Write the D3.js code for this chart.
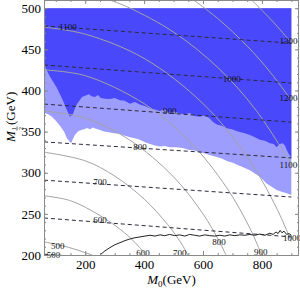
<!DOCTYPE html>
<html>
<head>
<meta charset="utf-8">
<script src="https://cdn.jsdelivr.net/npm/d3@7/dist/d3.min.js"></script>
<style>
  body { margin: 0; background: #fff; }
  svg { display: block; font-family: "Liberation Serif", "Times New Roman", serif; }
</style>
</head>
<body>
<script>
/* globals d3 */

// ---- data (M0, M1/2 in GeV) ----
var xTicks = [200, 400, 600, 800];
var yTicks = [200, 250, 300, 350, 400, 450, 500];

// gluino mass contours (dashed), M1/2 at M0 = 60 and at M0 = 900
var gluinoLevels = [500, 600, 700, 800, 900, 1000, 1100];
var gluinoLeft   = [201, 245, 291, 337.5, 383.5, 431, 478.5];
var gluinoRight  = [180, 222, 270.5, 318, 361.5, 409, 457.5];
var gluinoLabelAt = [[92, 200.3], [250, 242.5], [250, 288.5], [386, 331], [487, 375], [698, 414], [141, 477]];

// squark mass contours (solid grey)
var squarkLevels = [500, 600, 700, 800, 900, 1000, 1100, 1200, 1300];
var squarkLines = [
  [[60, 216], [114, 212], [165, 207], [223, 200]],
  [[60, 272], [150, 266], [250, 248], [330, 228], [380, 211], [405, 200]],
  [[60, 325], [200, 314.5], [300, 296], [400, 268], [480, 237], [530, 212], [548, 200]],
  [[60, 375], [200, 366.5], [350, 340], [500, 295], [600, 250], [650, 220], [678, 200]],
  [[60, 425], [200, 418], [400, 384], [550, 340], [680, 282], [760, 232], [799, 200]],
  [[60, 477], [200, 468.5], [400, 439], [600, 384], [750, 319.5], [850, 257], [900, 216]],
  [[283, 510], [350, 500.5], [500, 471], [650, 428], [780, 376], [900, 310]],
  [[568, 510], [650, 487.5], [750, 454], [830, 421.5], [900, 388]],
  [[765, 510], [830, 486.5], [870, 470.5], [900, 458]]
];
var squarkLabelAt = [[107, 211.5], [396, 203], [521, 203], [654, 215.8], [796, 203.6],
                     [902, 220.7], [890, 309.4], [890, 391], [890, 460]];

// lower edge of the darker excluded region
var darkEdge = [
  [60, 431], [80, 417], [104, 403], [124, 388], [138, 376], [148, 368], [158, 371], [168, 381],
  [179, 387], [189, 392], [202, 394], [212, 395.5], [222, 393], [233, 392], [243, 394.5], [253, 391],
  [267, 390], [284, 389.5], [300, 391], [318, 388], [334, 387.5], [352, 384], [368, 386], [385, 383],
  [402, 381], [420, 378.5], [436, 377], [453, 375], [470, 377], [487, 373], [504, 374.5], [521, 372],
  [538, 371], [555, 372.5], [572, 369], [589, 368], [606, 370], [623, 366], [633, 362], [647, 358.5],
  [664, 357], [681, 354], [698, 353], [711, 351], [725, 349.5], [742, 348], [759, 346], [776, 343],
  [793, 340], [810, 339], [827, 336], [840, 335], [850, 331], [860, 335], [871, 336], [878, 333],
  [884, 328], [891, 323], [900, 318]
];

// lower edge of the lighter excluded region
var lightEdge = [
  [60, 373], [74, 371], [87, 368], [101, 363], [114, 357], [128, 350], [138, 342], [145, 339],
  [152, 336], [158, 341], [165, 346], [175, 350], [186, 352], [196, 353], [206, 354.5], [216, 353],
  [226, 355], [236, 353.5], [250, 352], [264, 350], [284, 349], [300, 348], [318, 347], [335, 345],
  [352, 343], [369, 342], [386, 340], [403, 337], [420, 335], [437, 333], [453, 332], [470, 332.5],
  [487, 331], [509, 331], [531, 330], [550, 328], [570, 327], [589, 325], [610, 323], [628, 321],
  [647, 319], [665, 317], [683, 314], [701, 312], [720, 309], [740, 306], [759, 303], [776, 299],
  [793, 295], [805, 291], [816, 287], [833, 283], [850, 279], [867, 277], [884, 275], [900, 273]
];
var regionTop = 500, regionLeft = 60, regionRight = 900;

// black limit curve near the bottom
var blackLine = [
  [250, 200], [267, 205], [284, 209], [301, 212.5], [318, 215], [335, 217.5], [352, 219.5],
  [369, 221], [386, 222], [403, 223], [420, 224], [437, 223], [454, 224.5], [470, 223.5],
  [487, 225], [504, 223.5], [521, 224.5], [538, 223], [555, 225], [572, 224], [589, 223],
  [606, 224.5], [623, 223.5], [640, 223], [657, 224], [674, 223], [691, 224.5], [708, 223.5],
  [725, 224.5], [742, 224], [759, 225], [776, 224], [793, 225.5], [810, 224], [827, 226.5],
  [838, 225], [848, 228], [855, 226], [862, 230], [868, 227], [875, 229], [884, 225],
  [892, 226], [900, 224]
];

// ---- layout ----
var margin = {top: 0, right: 1, bottom: 34, left: 44};
var width = 300 - margin.left - margin.right;
var height = 289 - margin.top - margin.bottom;

var x = d3.scaleLinear().domain([60, 926]).range([0, width]);
var y = d3.scaleLinear().domain([200, 510]).range([height, 0]);

var svg = d3.select("body").append("svg")
  .attr("width", 300)
  .attr("height", 289);

var g = svg.append("g")
  .attr("transform", "translate(" + margin.left + "," + margin.top + ")");

g.append("clipPath").attr("id", "clip")
  .append("rect").attr("width", width).attr("height", height);

var plot = g.append("g").attr("clip-path", "url(#clip)");

var line = d3.line()
  .x(function(d) { return x(d[0]); })
  .y(function(d) { return y(d[1]); });

var smooth = d3.line()
  .x(function(d) { return x(d[0]); })
  .y(function(d) { return y(d[1]); })
  .curve(d3.curveCatmullRom);

// excluded regions
var lightPoly = [[regionLeft, regionTop], [regionRight, regionTop]].concat(lightEdge.slice().reverse());
var darkPoly = [[regionLeft, regionTop], [regionRight, regionTop]].concat(darkEdge.slice().reverse());

plot.append("path").attr("d", line(lightPoly) + "Z").attr("fill", "#9d9dfd");
plot.append("path").attr("d", line(darkPoly) + "Z").attr("fill", "#4949fb");

// squark contours
plot.selectAll(".sq").data(squarkLines).enter().append("path")
  .attr("class", "sq")
  .attr("d", smooth)
  .attr("fill", "none")
  .attr("stroke", "#a3a3a3")
  .attr("stroke-width", 1);

// gluino contours
plot.selectAll(".gl").data(gluinoLevels).enter().append("path")
  .attr("class", "gl")
  .attr("d", function(d, i) { return line([[60, gluinoLeft[i]], [900, gluinoRight[i]]]); })
  .attr("fill", "none")
  .attr("stroke", "#2a2a3a")
  .attr("stroke-width", 1)
  .attr("stroke-dasharray", "4,3");

// black curve
plot.append("path")
  .attr("d", line(blackLine))
  .attr("fill", "none")
  .attr("stroke", "#222")
  .attr("stroke-width", 1);

// contour labels
function addLabels(levels, pos) {
  g.append("g").selectAll("text").data(levels).enter().append("text")
    .attr("x", function(d, i) { return x(pos[i][0]); })
    .attr("y", function(d, i) { return y(pos[i][1]); })
    .attr("dy", "0.35em")
    .attr("text-anchor", "middle")
    .attr("font-size", 9)
    .attr("fill", "#111")
    .text(function(d) { return d; });
}
addLabels(gluinoLevels, gluinoLabelAt);
addLabels(squarkLevels, squarkLabelAt);

// frame + ticks (inward ticks on all four sides)
function styleAxis(sel) {
  sel.select(".domain").remove();
  sel.selectAll("line").attr("stroke", "#8a8a8a");
  sel.selectAll("text").attr("font-size", 13).attr("font-family", "Liberation Serif, serif").attr("fill", "#000");
}

var xMinor = d3.range(100, 926, 50);
var yMinor = d3.range(210, 510, 10);

g.append("g").attr("transform", "translate(0," + height + ")")
  .call(d3.axisBottom(x).tickValues(xMinor).tickSize(-2).tickFormat("")).call(styleAxis);
g.append("g").attr("transform", "translate(0," + height + ")")
  .call(d3.axisBottom(x).tickValues(xTicks).tickSize(-4).tickPadding(5)).call(styleAxis);
g.append("g")
  .call(d3.axisTop(x).tickValues(xMinor).tickSize(-2).tickFormat("")).call(styleAxis);
g.append("g")
  .call(d3.axisTop(x).tickValues(xTicks).tickSize(-4).tickFormat("")).call(styleAxis);

g.append("g")
  .call(d3.axisLeft(y).tickValues(yMinor).tickSize(-2).tickFormat("")).call(styleAxis);
g.append("g")
  .call(d3.axisLeft(y).tickValues(yTicks).tickSize(-4).tickPadding(3)).call(styleAxis);
g.append("g").attr("transform", "translate(" + width + ",0)")
  .call(d3.axisRight(y).tickValues(yMinor).tickSize(-2).tickFormat("")).call(styleAxis);
g.append("g").attr("transform", "translate(" + width + ",0)")
  .call(d3.axisRight(y).tickValues(yTicks).tickSize(-4).tickFormat("")).call(styleAxis);

g.append("rect")
  .attr("x", 0.5).attr("y", 0.5)
  .attr("width", width - 1).attr("height", height)
  .attr("fill", "none")
  .attr("stroke", "#8a8a8a");

// axis titles
var xt = svg.append("text")
  .attr("x", margin.left + width / 2)
  .attr("y", 284)
  .attr("text-anchor", "middle")
  .attr("font-size", 13);
xt.append("tspan").attr("font-style", "italic").text("M");
xt.append("tspan").attr("font-size", 9).attr("dy", 3).text("0");
xt.append("tspan").attr("dy", -3).text("(GeV)");

var yt = svg.append("g").attr("transform", "translate(15,142) rotate(-90)");
yt.append("text").attr("x", 0).attr("y", 0).attr("font-size", 13).attr("font-style", "italic").text("M");
yt.append("text").attr("x", 13.5).attr("y", 0.5).attr("font-size", 6.5).attr("text-anchor", "middle").text("1");
yt.append("line").attr("x1", 11.5).attr("x2", 15.5).attr("y1", 2).attr("y2", 2).attr("stroke", "#000").attr("stroke-width", 0.6);
yt.append("text").attr("x", 13.5).attr("y", 7.5).attr("font-size", 6.5).attr("text-anchor", "middle").text("2");
yt.append("text").attr("x", 17).attr("y", 0).attr("font-size", 13).text("(GeV)");
</script>
</body>
</html>
